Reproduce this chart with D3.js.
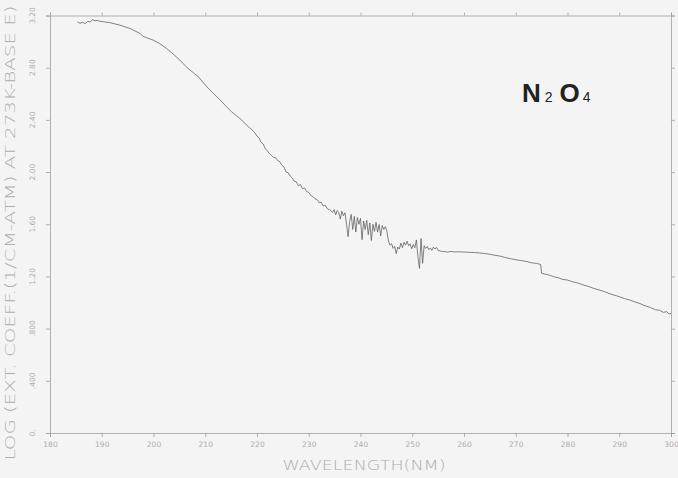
<!DOCTYPE html>
<html>
<head>
<meta charset="utf-8">
<script src="https://cdn.jsdelivr.net/npm/d3@7"></script>
<style>
  html, body { margin: 0; padding: 0; background: #f4f4f4; }
  svg { display: block; }
</style>
</head>
<body>
<svg id="chart" width="678" height="478"></svg>
<script>
// ---- data ----
const xTicks = [180, 190, 200, 210, 220, 230, 240, 250, 260, 270, 280, 290, 300];
const yTicks = [0, 0.4, 0.8, 1.2, 1.6, 2.0, 2.4, 2.8, 3.2];
const yTickLabels = ["0.", ".400", ".800", "1.20", "1.60", "2.00", "2.40", "2.80", "3.20"];
const xTitle = "WAVELENGTH(NM)";
const yTitle = "LOG (EXT. COEFF.(1/CM-ATM) AT 273K-BASE E)";

const wavelength = [
  185.3, 185.8, 186.3, 186.8, 187.3, 187.8, 188.2, 188.7, 189.2, 189.7, 190.3, 191.5,
  193.5, 195.5, 197.4, 198.0, 198.7, 200.0, 201.2, 202.5, 203.8, 205.1, 206.5, 207.6,
  208.0, 208.5, 210.3, 211.6, 212.9, 214.0, 215.1, 216.0, 216.7, 217.4,
  218.0, 218.4, 218.8, 219.2, 219.6, 220.0, 220.4, 220.8, 221.2, 221.6, 222.0, 222.4,
  222.8, 223.2, 223.6, 224.0, 224.4, 224.8, 225.2, 225.6, 226.0, 226.4, 226.8, 227.2,
  227.6, 228.0, 228.4, 228.8, 229.2, 229.6, 230.0, 230.4, 230.8, 231.2, 231.6, 232.0,
  232.4, 232.8, 233.2, 233.6, 234.0, 234.3, 234.6, 234.9, 235.2, 235.5, 235.8, 236.1,
  236.4, 236.7, 237.0, 237.3, 237.6, 237.9, 238.2, 238.5, 238.8, 239.1, 239.4, 239.7,
  240.0, 240.3, 240.6, 240.9, 241.2, 241.5, 241.8, 242.1, 242.4, 242.7, 243.0, 243.3,
  243.6, 243.9, 244.2, 244.5, 244.8, 245.1, 245.4, 245.7, 246.0, 246.3, 246.6, 246.9,
  247.2, 247.5, 247.8, 248.1, 248.4, 248.7, 249.0, 249.3, 249.6, 249.9, 250.2, 250.5,
  250.8, 251.1, 251.4, 251.7, 252.0, 252.3, 252.6, 252.9, 253.2, 253.5, 253.8, 254.1,
  254.4, 254.7, 255.0, 255.4, 255.8, 256.2, 256.8, 257.5, 258.2, 259.0, 260.0, 261.0,
  262.0, 263.0, 264.0, 265.0, 266.0, 267.0, 268.0, 269.0, 270.0, 271.0, 272.0, 273.0,
  274.0, 274.8, 275.0, 275.6, 276.3, 277.3, 278.2, 279.0, 280.0, 281.0, 282.0, 283.0,
  284.0, 285.0, 286.0, 287.0, 288.0, 289.0, 290.0, 291.0, 292.0, 293.0, 294.0, 295.0,
  296.0, 297.0, 297.8, 298.5, 299.2, 299.6, 300.0
];
const logCoeff = [
  3.152, 3.140, 3.148, 3.138, 3.155, 3.150, 3.168, 3.160, 3.162, 3.155, 3.152, 3.146,
  3.126, 3.100, 3.062, 3.040, 3.029, 3.010, 2.985, 2.948, 2.905, 2.858, 2.800, 2.765,
  2.750, 2.738, 2.654, 2.602, 2.552, 2.505, 2.462, 2.432, 2.411, 2.385,
  2.360, 2.345, 2.332, 2.318, 2.300, 2.275, 2.262, 2.228, 2.215, 2.178, 2.165, 2.140,
  2.128, 2.112, 2.110, 2.088, 2.080, 2.052, 2.040, 2.002, 1.995, 1.970, 1.955, 1.930,
  1.925, 1.895, 1.905, 1.872, 1.878, 1.850, 1.845, 1.820, 1.812, 1.795, 1.790, 1.765,
  1.770, 1.740, 1.745, 1.718, 1.712, 1.705, 1.690, 1.712, 1.672, 1.705, 1.690, 1.640,
  1.700, 1.665, 1.688, 1.600, 1.505, 1.620, 1.675, 1.560, 1.660, 1.540, 1.652, 1.600,
  1.645, 1.482, 1.625, 1.560, 1.630, 1.520, 1.610, 1.475, 1.600, 1.545, 1.615, 1.540,
  1.598, 1.510, 1.590, 1.560, 1.582, 1.548, 1.470, 1.440, 1.452, 1.415, 1.430, 1.375,
  1.425, 1.410, 1.455, 1.420, 1.462, 1.440, 1.470, 1.435, 1.450, 1.412, 1.445, 1.420,
  1.480, 1.350, 1.262, 1.490, 1.300, 1.435, 1.415, 1.430, 1.405, 1.418, 1.400, 1.425,
  1.410, 1.422, 1.400, 1.395, 1.390, 1.392, 1.386, 1.392, 1.388, 1.389, 1.387, 1.385,
  1.383, 1.380, 1.376, 1.370, 1.362, 1.356, 1.345, 1.336, 1.328, 1.322, 1.315, 1.305,
  1.300, 1.292, 1.225, 1.218, 1.212, 1.198, 1.190, 1.178, 1.172, 1.159, 1.150, 1.135,
  1.124, 1.109, 1.098, 1.085, 1.070, 1.057, 1.045, 1.030, 1.020, 1.005, 0.992, 0.975,
  0.962, 0.945, 0.940, 0.925, 0.930, 0.912, 0.917
];

// ---- layout ----
const svg = d3.select("#chart");
const W = 678, H = 478;
const x = d3.scaleLinear().domain([180, 300]).range([50, 671]);
const y = d3.scaleLinear().domain([0, 3.2]).range([433, 15.5]);

svg.append("rect").attr("width", W).attr("height", H).attr("fill", "#f4f4f4");

const axisColor = "#a0a0a0";
const textColor = "#adadad";
const fontFam = "'DejaVu Sans', 'Liberation Sans', sans-serif";

// frame axes
const gB = svg.append("g").attr("transform", `translate(0,${y(0)})`)
  .call(d3.axisBottom(x).tickValues(xTicks).tickSize(4).tickFormat(d => d));
const gT = svg.append("g").attr("transform", `translate(0,${y(3.2)})`)
  .call(d3.axisTop(x).tickValues(xTicks).tickSize(3).tickFormat(""));
const gL = svg.append("g").attr("transform", `translate(${x(180)},0)`)
  .call(d3.axisLeft(y).tickValues(yTicks).tickSize(4).tickFormat(""));
const gR = svg.append("g").attr("transform", `translate(${x(300)},0)`)
  .call(d3.axisRight(y).tickValues(yTicks).tickSize(4).tickFormat(""));

[gB, gT, gL, gR].forEach(g => {
  g.selectAll("path.domain").attr("stroke", axisColor).attr("stroke-width", 0.8);
  g.selectAll(".tick line").attr("stroke", axisColor).attr("stroke-width", 0.8);
});
gB.selectAll(".tick text")
  .attr("fill", textColor).attr("font-family", fontFam).attr("font-size", 7.5)
  .attr("y", 9);

// y tick labels, rotated
yTicks.forEach((v, i) => {
  svg.append("text")
    .attr("transform", `translate(35,${y(v)}) rotate(-90)`)
    .attr("text-anchor", "middle")
    .attr("fill", textColor)
    .attr("font-family", fontFam)
    .attr("font-size", 7.5)
    .text(yTickLabels[i]);
});

// axis titles
svg.append("text")
  .attr("x", 364).attr("y", 470)
  .attr("text-anchor", "middle")
  .attr("fill", textColor)
  .attr("font-family", fontFam)
  .attr("font-size", 14)
  .attr("font-weight", 300)
  .attr("textLength", 163).attr("lengthAdjust", "spacingAndGlyphs")
  .text(xTitle);

svg.append("text")
  .attr("transform", "translate(15,233) rotate(-90)")
  .attr("text-anchor", "middle")
  .attr("fill", textColor)
  .attr("font-family", fontFam)
  .attr("font-size", 14)
  .attr("font-weight", 300)
  .attr("textLength", 455).attr("lengthAdjust", "spacingAndGlyphs")
  .text(yTitle);

// curve
const pts = wavelength.map((w, i) => [w, logCoeff[i]]);
svg.append("path")
  .datum(pts)
  .attr("fill", "none")
  .attr("stroke", "#5a5a5a")
  .attr("stroke-width", 0.75)
  .attr("stroke-linejoin", "round")
  .attr("d", d3.line().x(d => x(d[0])).y(d => y(d[1])));

// N2O4 label
const lab = svg.append("text")
  .attr("x", 522).attr("y", 102)
  .attr("fill", "#222")
  .attr("font-family", "'Liberation Sans', Arial, sans-serif")
  .attr("font-weight", "bold")
  .attr("font-size", 26);
lab.append("tspan").text("N");
lab.append("tspan").attr("font-size", 14).attr("font-weight", "normal").attr("dx", 4).text("2");
lab.append("tspan").attr("dx", 7).text("O");
lab.append("tspan").attr("font-size", 14).attr("font-weight", "normal").attr("dx", 3).text("4");
</script>
</body>
</html>
